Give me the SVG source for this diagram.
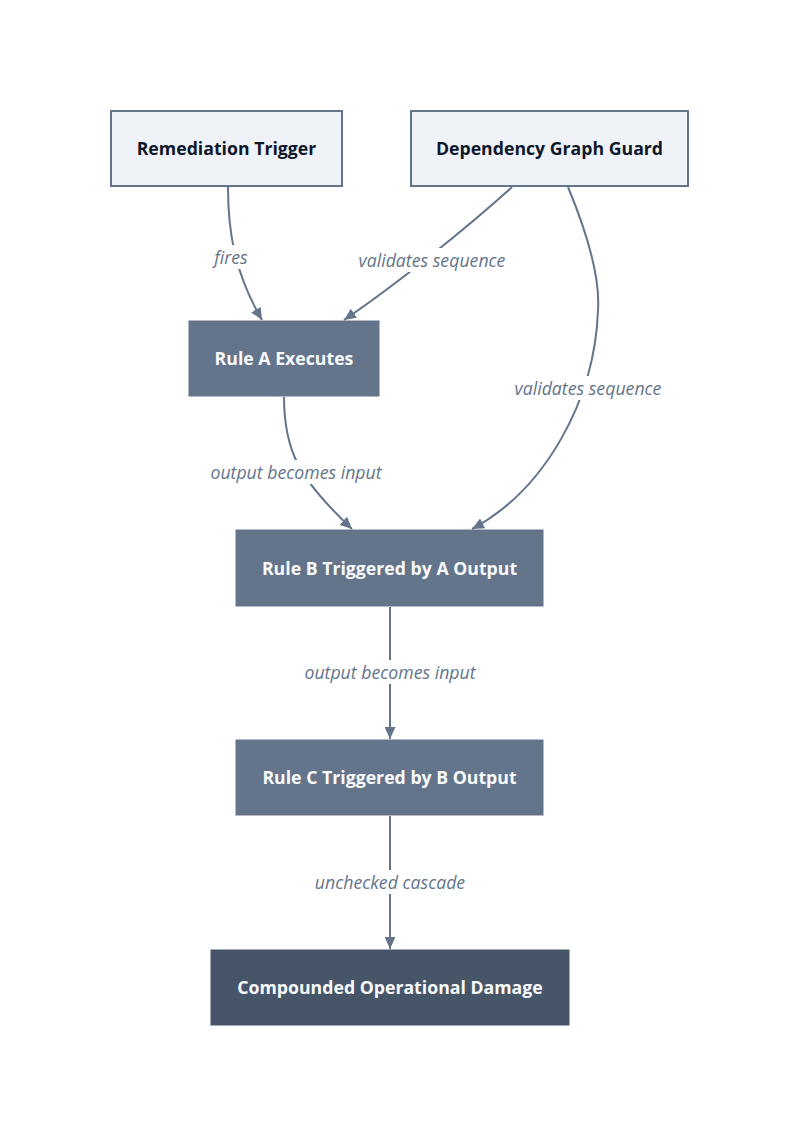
<svg xmlns="http://www.w3.org/2000/svg" width="800" height="1137" viewBox="0 0 800 1137">
<style>
.light{fill:#eff3f8;stroke:#64748b;stroke-width:2}
.mid{fill:#64748b;stroke:#64748b;stroke-width:1}
.dark{fill:#475569;stroke:#475569;stroke-width:1}
.nt{font-family:"Open Sans","Liberation Sans",sans-serif;font-weight:700;font-size:17.7px;text-anchor:middle;dominant-baseline:central}
.nt.d{fill:#0f172a}
.nt.w{fill:#f8fafc}
.edge{fill:none;stroke:#64748b;stroke-width:2}
.lbg{fill:#ffffff}
.el{font-family:"Open Sans","Liberation Sans",sans-serif;font-style:italic;font-size:17.7px;fill:#64748b;text-anchor:middle;dominant-baseline:central}
</style>
<defs>
<marker id="arr" viewBox="0 0 12 11" refX="12" refY="5.5" markerWidth="12" markerHeight="11" markerUnits="userSpaceOnUse" orient="auto">
<path d="M0,0 L12,5.5 L0,11 Z" fill="#64748b"/>
</marker>
</defs>
<rect width="800" height="1137" fill="#ffffff"/>
<g id="connectors">
<path class="edge" marker-end="url(#arr)" d="M228,187 C228,230 234,272 262,320"/>
<path class="edge" marker-end="url(#arr)" d="M512,187 C470,225 400,282 344,320"/>
<path class="edge" marker-end="url(#arr)" d="M568,187 C590,240 600,280 598,310 C595,400 545,490 472,529"/>
<path class="edge" marker-end="url(#arr)" d="M284,397 C284,450 298,478 352,529"/>
<path class="edge" marker-end="url(#arr)" d="M390,607 L390,739"/>
<path class="edge" marker-end="url(#arr)" d="M390,816 L390,949"/>
<rect class="lbg" x="209" y="245" width="44" height="24"/>
<text class="el" x="231" y="257">fires</text>
<rect class="lbg" x="355" y="248" width="154" height="24"/>
<text class="el" x="432" y="260">validates sequence</text>
<rect class="lbg" x="511" y="376" width="154" height="24"/>
<text class="el" x="588" y="388">validates sequence</text>
<rect class="lbg" x="207" y="460" width="179" height="24"/>
<text class="el" x="296" y="472">output becomes input</text>
<rect class="lbg" x="301" y="660" width="179" height="24"/>
<text class="el" x="390" y="672">output becomes input</text>
<rect class="lbg" x="312" y="870" width="156" height="24"/>
<text class="el" x="390" y="882">unchecked cascade</text>
</g>
<g id="remediation-trigger">
<rect class="light" x="111" y="111" width="231" height="75"/>
<text class="nt d" x="226.5" y="148">Remediation Trigger</text>
</g>
<g id="dependency-graph-guard">
<rect class="light" x="411" y="111" width="277" height="75"/>
<text class="nt d" x="549.5" y="148">Dependency Graph Guard</text>
</g>
<g id="rule-a">
<rect class="mid" x="189" y="321" width="190" height="75"/>
<text class="nt w" x="284" y="358">Rule A Executes</text>
</g>
<g id="rule-b">
<rect class="mid" x="236" y="530" width="307" height="76"/>
<text class="nt w" x="389.5" y="567.5">Rule B Triggered by A Output</text>
</g>
<g id="rule-c">
<rect class="mid" x="236" y="740" width="307" height="75"/>
<text class="nt w" x="389.5" y="777">Rule C Triggered by B Output</text>
</g>
<g id="compounded-damage">
<rect class="dark" x="211" y="950" width="358" height="75"/>
<text class="nt w" x="390" y="987">Compounded Operational Damage</text>
</g>
</svg>
